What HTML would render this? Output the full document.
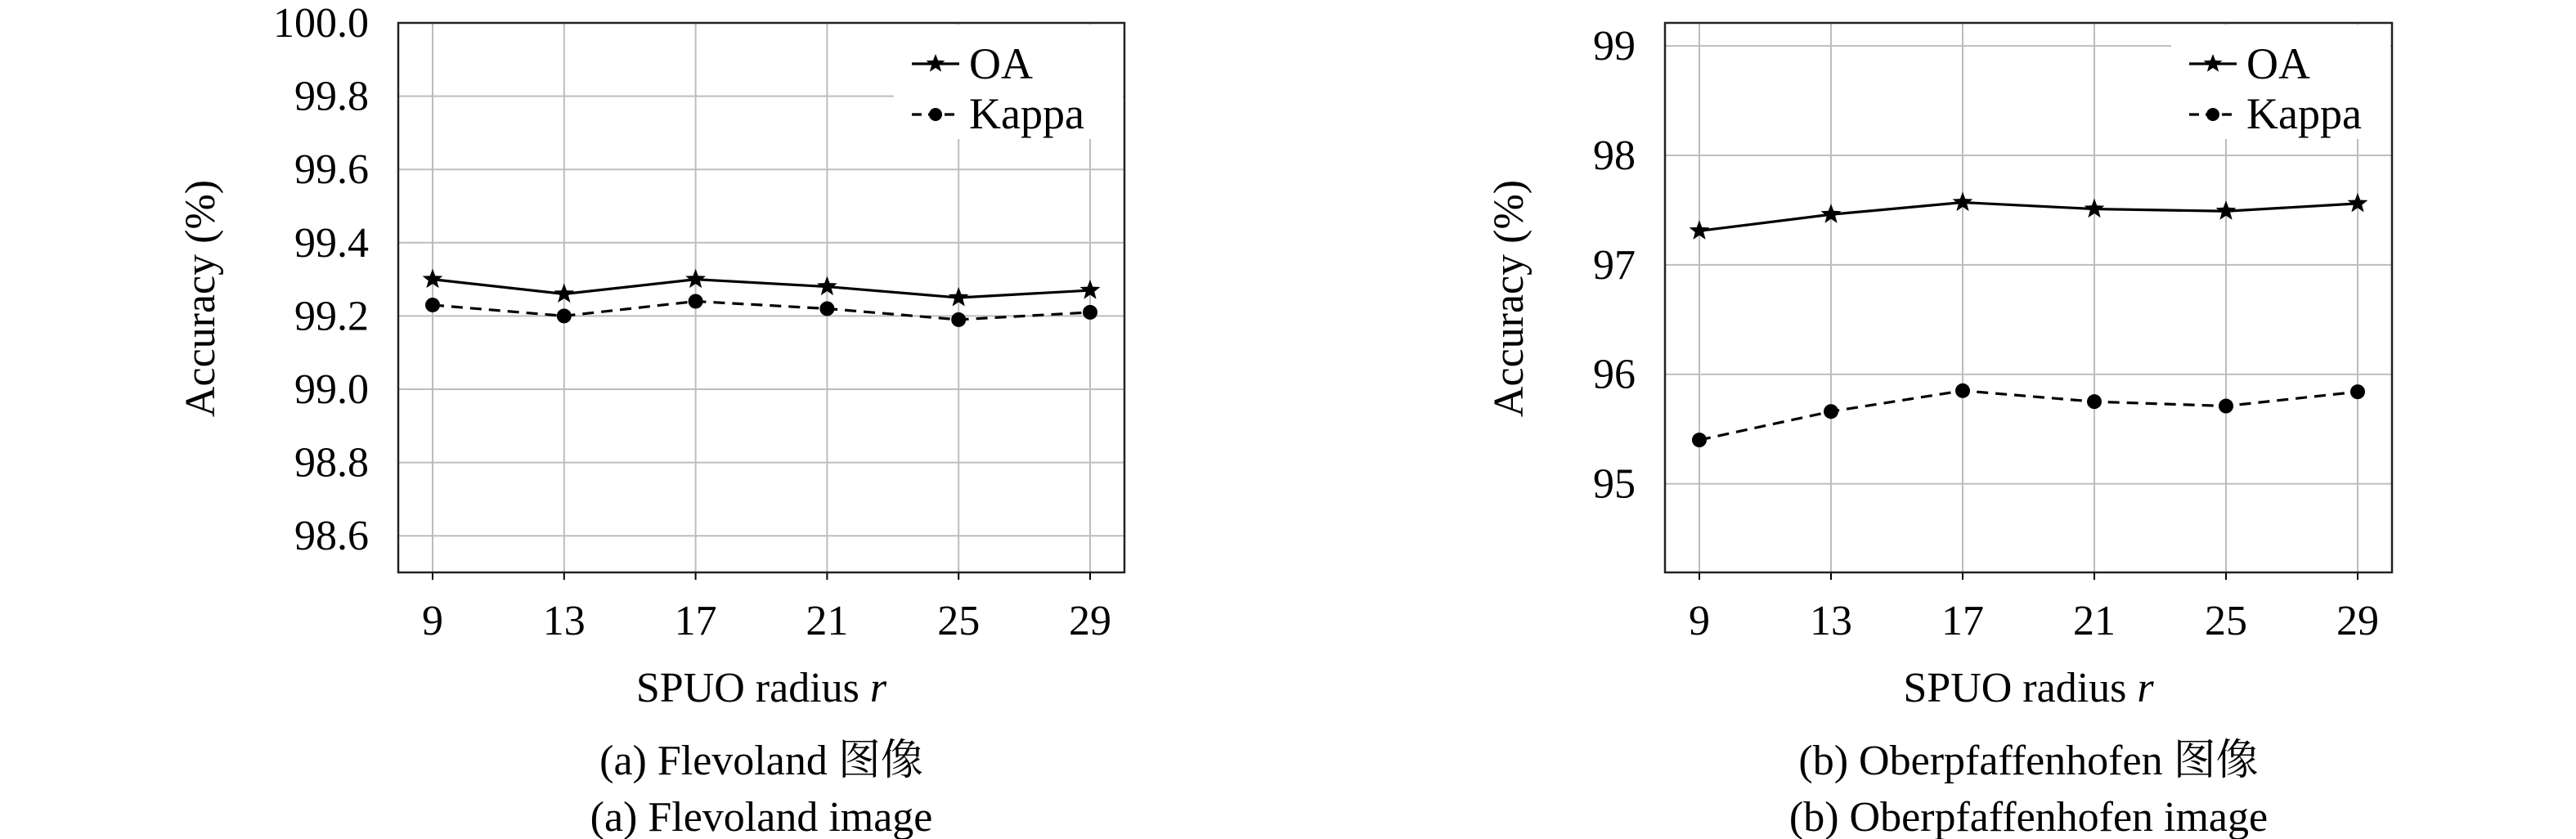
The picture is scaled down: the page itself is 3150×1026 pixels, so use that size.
<!DOCTYPE html>
<html><head><meta charset="utf-8"><style>
html,body{margin:0;padding:0;background:#fff;width:3150px;height:1026px;overflow:hidden}
svg, svg text, svg tspan{font-family:"Liberation Serif","DejaVu Serif","Noto Serif CJK SC",serif !important;fill:#000}
</style></head><body>
<svg id="svg" width="3150" height="1026" viewBox="0 0 3150 1026" xmlns="http://www.w3.org/2000/svg" font-family="Liberation Serif, Noto Serif CJK SC, serif"></svg>
<script>
const categories = [9, 13, 17, 21, 25, 29];
const oaA = [99.30, 99.26, 99.30, 99.28, 99.25, 99.27];
const kappaA = [99.23, 99.20, 99.24, 99.22, 99.19, 99.21];
const yTicksA = [98.6, 98.8, 99.0, 99.2, 99.4, 99.6, 99.8, 100.0];
const yTickLabelsA = ["98.6","98.8","99.0","99.2","99.4","99.6","99.8","100.0"];
const oaB = [97.31, 97.46, 97.57, 97.51, 97.49, 97.56];
const kappaB = [95.40, 95.66, 95.85, 95.75, 95.71, 95.84];
const yTicksB = [95, 96, 97, 98, 99];
const yTickLabelsB = ["95","96","97","98","99"];
const captionsA = ["(a) Flevoland 图像", "(a) Flevoland image"];
const captionsB = ["(b) Oberpfaffenhofen 图像", "(b) Oberpfaffenhofen image"];

const NS = "http://www.w3.org/2000/svg";
const svg = document.getElementById('svg');
function mk(tag, attrs, parent, txt){
  const e = document.createElementNS(NS, tag);
  for (const k in attrs) e.setAttribute(k, attrs[k]);
  if (tag === 'text') e.setAttribute('font-family', '"Liberation Serif", "Noto Serif CJK SC", serif');
  if (txt !== undefined) e.textContent = txt;
  (parent || svg).appendChild(e);
  return e;
}
function star(cx, cy, r, g){
  let p = [];
  for (let i = 0; i < 10; i++){
    const a = -Math.PI/2 + i*Math.PI/5;
    const rr = i%2 ? r*0.42 : r;
    p.push((cx+rr*Math.cos(a)).toFixed(1)+","+(cy+rr*Math.sin(a)).toFixed(1));
  }
  return mk('polygon', {points:p.join(' '), fill:'#000'}, g);
}
function panel(id, L, R, T, B, ymin, ymax, yt, ytl, oa, kp, leg, caps, ylx){
  const g = mk('g', {});
  
  
  const xs = v => L + 42 + (v - categories[0]) / (categories[categories.length-1] - categories[0]) * (R - L - 84);
  const ys = v => B - (v - ymin) / (ymax - ymin) * (B - T);
  categories.forEach(c => {
    const l = mk('line', {x1:xs(c), x2:xs(c), y1:T, y2:B, stroke:'#bdbdbd', 'stroke-width':2}, g);
    
    
    mk('line', {x1:xs(c), x2:xs(c), y1:B, y2:B+9, stroke:'#000', 'stroke-width':2}, g);
    const t = mk('text', {x:xs(c), y:776, 'font-size':52, 'text-anchor':'middle'}, g, String(c));
    
    
  });
  yt.forEach((v, i) => {
    const l = mk('line', {x1:L, x2:R, y1:ys(v), y2:ys(v), stroke:'#bdbdbd', 'stroke-width':2}, g);
    
    
    const t = mk('text', {x:L-36, y:ys(v)+17, 'font-size':52, 'text-anchor':'end'}, g, ytl[i]);
    
    
  });
  const lb = mk('rect', {x:leg-22, y:T+2, width:R-leg+20, height:140, fill:'#fff'}, g);
  
  
  const fr = mk('rect', {x:L, y:T, width:R-L, height:B-T, fill:'none', stroke:'#222', 'stroke-width':2.5}, g);
  
  
  const lo = mk('polyline', {points: oa.map((v,i)=>xs(categories[i])+','+ys(v)).join(' '), fill:'none', stroke:'#000', 'stroke-width':3.2}, g);
  
  
  const lk = mk('polyline', {points: kp.map((v,i)=>xs(categories[i])+','+ys(v)).join(' '), fill:'none', stroke:'#000', 'stroke-width':3.2, 'stroke-dasharray':'14,9'}, g);
  
  
  oa.forEach((v,i) => {
    const s = star(xs(categories[i]), ys(v), 13, g);
    
    
  });
  kp.forEach((v,i) => {
    const c = mk('circle', {cx:xs(categories[i]), cy:ys(v), r:9, fill:'#000'}, g);
    
    
  });
  mk('line', {x1:leg, x2:leg+58, y1:78, y2:78, stroke:'#000', 'stroke-width':3.2}, g);
  star(leg+29, 78, 12, g);
  const t1 = mk('text', {x:leg+70, y:96, 'font-size':54}, g, 'OA');
  
  
  mk('line', {x1:leg, x2:leg+58, y1:140, y2:140, stroke:'#000', 'stroke-width':3.2, 'stroke-dasharray':'12,8'}, g);
  mk('circle', {cx:leg+29, cy:140, r:8, fill:'#000'}, g);
  const t2 = mk('text', {x:leg+70, y:157, 'font-size':54}, g, 'Kappa');
  
  
  const yl = mk('text', {x:0, y:0, 'font-size':52, 'text-anchor':'middle', transform:`translate(${ylx},365) rotate(-90)`}, g, 'Accuracy (%)');
  
  
  const cx = (L+R)/2;
  const xl = mk('text', {x:cx, y:858, 'font-size':52, 'text-anchor':'middle'}, g);
  
  
  mk('tspan', {}, xl, 'SPUO radius ');
  mk('tspan', {'font-style':'italic'}, xl, 'r');
  caps.forEach((c, i) => {
    const t = mk('text', {x:cx, y:947 + i*69, 'font-size':52, 'text-anchor':'middle'}, g, c);
    
    
  });
}
panel('panel-flevoland', 487, 1375, 28, 700, 98.5, 100.0, yTicksA, yTickLabelsA, oaA, kappaA, 1115, captionsA, 262);
panel('panel-oberpfaffenhofen', 2036, 2925, 28, 700, 94.19, 99.21, yTicksB, yTickLabelsB, oaB, kappaB, 2677, captionsB, 1862);
</script>
</body></html>
